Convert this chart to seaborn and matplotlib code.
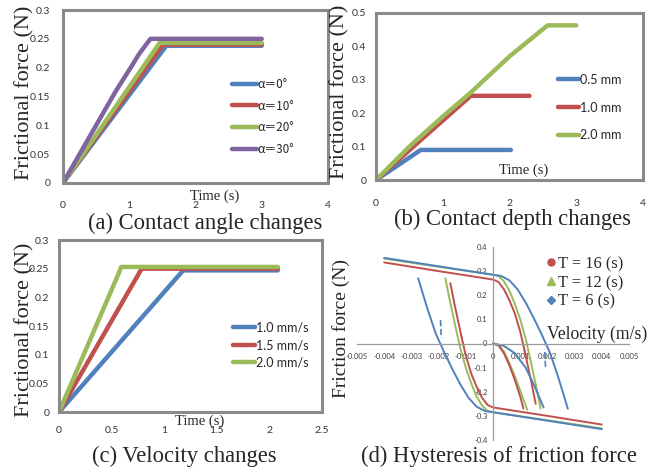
import matplotlib
matplotlib.use('Agg')
import matplotlib.pyplot as plt
import seaborn as sns
from matplotlib.lines import Line2D
from matplotlib.ticker import FuncFormatter, MultipleLocator
from matplotlib.font_manager import FontProperties

sns.set_style('white')
plt.rcParams['font.family'] = ['Lato', 'DejaVu Sans', 'Noto Sans CJK SC']
plt.rcParams['axes.unicode_minus'] = False

BLUE, RED, GREEN, PURPLE = '#4F81BD', '#C0504D', '#9BBB59', '#8064A2'

# ---------------- data ----------------
# (a) contact angle
a_labels = ['α＝0°', 'α＝10°', 'α＝20°', 'α＝30°']
a_t0 = [0, 1.56, 3.0];  a_f0 = [0, 0.238, 0.238]
a_t10 = [0, 1.51, 3.0]; a_f10 = [0, 0.240, 0.240]
a_t20 = [0, 1.46, 3.0]; a_f20 = [0, 0.243, 0.243]
a_t30 = [0, 0.4, 0.8, 1.0, 1.15, 1.32, 3.0]; a_f30 = [0, 0.08, 0.16, 0.196, 0.224, 0.250, 0.250]

# (b) contact depth
b_labels = ['0.5 mm', '1.0 mm', '2.0 mm']
b_t05 = [0, 0.67, 2.02]; b_f05 = [0, 0.090, 0.090]
b_t10 = [0, 0.7, 1.42, 2.3]; b_f10 = [0, 0.125, 0.252, 0.252]
b_t20 = [0, 0.5, 1.0, 1.42, 2.0, 2.57, 3.0]; b_f20 = [0, 0.10, 0.19, 0.262, 0.37, 0.463, 0.463]

# (c) velocity
c_labels = ['1.0 mm/s', '1.5 mm/s', '2.0 mm/s']
c_t10 = [0, 1.18, 2.08]; c_f10 = [0, 0.247, 0.247]
c_t15 = [0, 0.786, 2.08]; c_f15 = [0, 0.250, 0.250]
c_t20 = [0, 0.57, 0.59, 2.08]; c_f20 = [0, 0.243, 0.253, 0.253]

# (d) hysteresis (upper branch; lower branch is its mirror)
d_labels = ['T = 16 (s)', 'T = 12 (s)', 'T = 6 (s)']
d16_v = [-0.004, -0.002, 0, 0.0002, 0.0004, 0.0006, 0.0008, 0.001, 0.0012, 0.0014, 0.00157]
d16_f = [0.336, 0.30, 0.265, 0.255, 0.225, 0.18, 0.125, 0.05, -0.05, -0.155, -0.25]
d12_v = [-0.004, -0.002, 0, 0.0002, 0.0004, 0.0006, 0.0008, 0.001, 0.0012, 0.0014, 0.0016, 0.00175]
d12_f = [0.352, 0.318, 0.285, 0.28, 0.258, 0.22, 0.165, 0.10, 0.02, -0.08, -0.185, -0.27]
d6_v = [-0.004, -0.002, 0, 0.0003, 0.0006, 0.0009, 0.0012, 0.0015, 0.0018, 0.0021, 0.0024, 0.00275]
d6_f = [0.355, 0.32, 0.285, 0.28, 0.262, 0.225, 0.17, 0.105, 0.035, -0.04, -0.14, -0.27]
# initial loading curves
d16_iv = [0, 0.0002, 0.0004, 0.0006, 0.0008, 0.001, 0.00112]
d16_if = [0, -0.008, -0.04, -0.09, -0.15, -0.22, -0.27]
d12_iv = [0, 0.0002, 0.0004, 0.0006, 0.0008, 0.001, 0.00126]
d12_if = [0, -0.006, -0.033, -0.08, -0.135, -0.195, -0.275]
d6_iv = [0, 0.0004, 0.0008, 0.0012, 0.0015, 0.00186]
d6_if = [0, -0.01, -0.04, -0.10, -0.17, -0.265]
# short dashed marks
d16_mv = [-0.00118, -0.00113]; d16_mf = [0.045, 0.005]
d6_mv = [-0.00193, -0.0019]; d6_mf = [0.097, 0.023]

W, H = 662, 474
fig = plt.figure(figsize=(W / 100, H / 100), dpi=100)
fig.patch.set_facecolor('white')


def px_axes(l, t, r, b):
    return fig.add_axes([l / W, 1 - b / H, (r - l) / W, (b - t) / H])


def ftext(x, y, s, **kw):
    fig.text(x / W, 1 - y / H, s, ha='center', va='center', **kw)


SERIF = 'Liberation Serif'
fmt = FuncFormatter(lambda v, p: '%g' % round(v, 6))


def style_box(ax, xmax, xstep, ymax, ystep, xpad, ypad):
    ax.set_xlim(0, xmax)
    ax.set_ylim(0, ymax)
    ax.xaxis.set_major_locator(MultipleLocator(xstep))
    ax.yaxis.set_major_locator(MultipleLocator(ystep))
    ax.xaxis.set_major_formatter(fmt)
    ax.yaxis.set_major_formatter(fmt)
    for s in ax.spines.values():
        s.set_visible(True)
        s.set_color('#8a8a8a')
        s.set_linewidth(2.2)
    ax.tick_params(axis='x', length=0, pad=xpad, labelsize=7.5, colors='#333333')
    ax.tick_params(axis='y', length=0, pad=ypad, labelsize=7.5, colors='#333333')
    ax.grid(False)
    ax.set_xlabel('')
    ax.set_ylabel('')


def line(ax, x, y, color, lw=3.2, label=None, **kw):
    sns.lineplot(x=x, y=y, ax=ax, color=color, lw=lw, sort=False, estimator=None,
                 label=label, solid_capstyle='round', solid_joinstyle='round', **kw)


leg_font = FontProperties(family=['Lato', 'DejaVu Sans', 'Noto Sans CJK SC'], size=9)
leg_font_a = FontProperties(family=['Noto Sans CJK SC', 'DejaVu Sans'], size=8.5)

# ---------------- (a) ----------------
ax = px_axes(63, 10, 328, 183)
for (t, f), c, lab in zip([(a_t0, a_f0), (a_t10, a_f10), (a_t20, a_f20), (a_t30, a_f30)],
                          [BLUE, RED, GREEN, PURPLE], a_labels):
    line(ax, t, f, c, label=lab)
style_box(ax, 4, 1, 0.3, 0.05, 13, 9)
ax.legend(loc='center left', bbox_to_anchor=(232 / W, 1 - 117 / H), bbox_transform=fig.transFigure,
          frameon=False, prop=leg_font_a, handlelength=2.1, handletextpad=0.05,
          labelspacing=0.75, borderpad=0, borderaxespad=0)
ftext(25, 93, 'Frictional force (N)', rotation=90, family=SERIF, fontsize=16)
ftext(215, 196, 'Time (s)', family=SERIF, fontsize=10.5)
ftext(205, 223, '(a) Contact angle changes', family=SERIF, fontsize=16.3)

# ---------------- (b) ----------------
ax = px_axes(376, 13, 643, 180)
for (t, f), c, lab in zip([(b_t05, b_f05), (b_t10, b_f10), (b_t20, b_f20)],
                          [BLUE, RED, GREEN], b_labels):
    line(ax, t, f, c, label=lab)
style_box(ax, 4, 1, 0.5, 0.1, 14, 7)
ax.legend(loc='center left', bbox_to_anchor=(558 / W, 1 - 107.5 / H), bbox_transform=fig.transFigure,
          frameon=False, prop=leg_font, handlelength=1.7, handletextpad=0.05,
          labelspacing=1.27, borderpad=0, borderaxespad=0)
ftext(340, 92, 'Frictional force (N)', rotation=90, family=SERIF, fontsize=16)
ftext(524, 170, 'Time (s)', family=SERIF, fontsize=10.5)
ftext(512, 219, '(b) Contact depth changes', family=SERIF, fontsize=16.3)

# ---------------- (c) ----------------
ax = px_axes(59, 240, 322, 412)
for (t, f), c, lab in zip([(c_t10, c_f10), (c_t15, c_f15), (c_t20, c_f20)],
                          [BLUE, RED, GREEN], c_labels):
    line(ax, t, f, c, label=lab)
style_box(ax, 2.5, 0.5, 0.3, 0.05, 10, 7)
ax.legend(loc='center left', bbox_to_anchor=(233 / W, 1 - 345 / H), bbox_transform=fig.transFigure,
          frameon=False, prop=leg_font, handlelength=1.76, handletextpad=0.05,
          labelspacing=0.46, borderpad=0, borderaxespad=0)
ftext(25, 330, 'Frictional force (N)', rotation=90, family=SERIF, fontsize=16)
ftext(200, 421, 'Time (s)', family=SERIF, fontsize=10.5)
ftext(184, 456, '(c) Velocity changes', family=SERIF, fontsize=16.3)

# ---------------- (d) ----------------
ax = px_axes(357, 247, 629, 440)
neg = lambda seq: [-v for v in seq]
for (v, f, iv, iff), c in zip([(d12_v, d12_f, d12_iv, d12_if),
                                (d16_v, d16_f, d16_iv, d16_if),
                                (d6_v, d6_f, d6_iv, d6_if)], [GREEN, RED, BLUE]):
    line(ax, v, f, c, lw=1.4)
    line(ax, neg(v), neg(f), c, lw=1.4)
    line(ax, iv, iff, c, lw=1.4)
for (mv, mf), c in zip([(d16_mv, d16_mf), (d6_mv, d6_mf)], [RED, BLUE]):
    line(ax, mv, mf, c, lw=1.2, linestyle='--')
    line(ax, neg(mv), neg(mf), c, lw=1.2, linestyle='--')
ax.set_xlim(-0.005, 0.005)
ax.set_ylim(-0.4, 0.4)
ax.xaxis.set_major_locator(MultipleLocator(0.001))
ax.yaxis.set_major_locator(MultipleLocator(0.1))
ax.xaxis.set_major_formatter(fmt)
ax.yaxis.set_major_formatter(fmt)
for k in ['top', 'right']:
    ax.spines[k].set_visible(False)
ax.spines['left'].set_position(('data', 0))
ax.spines['bottom'].set_position(('data', 0))
for k in ['left', 'bottom']:
    ax.spines[k].set_visible(True)
    ax.spines[k].set_color('#9a9a9a')
    ax.spines[k].set_linewidth(0.9)
ax.tick_params(axis='x', length=0, pad=7, labelsize=5.5, colors='#404040')
ax.tick_params(axis='y', length=0, pad=4, labelsize=5.5, colors='#404040')
ax.set_xlabel('')
ax.set_ylabel('')
ax.patch.set_alpha(0)
handles = [Line2D([], [], color=RED, marker='o', ms=5, lw=0),
           Line2D([], [], color=GREEN, marker='^', ms=5.5, lw=0),
           Line2D([], [], color=BLUE, marker='D', ms=4, lw=0)]
ax.legend(handles, d_labels, loc='center left', bbox_to_anchor=(547 / W, 1 - 283 / H),
          bbox_transform=fig.transFigure, frameon=False,
          prop=FontProperties(family=SERIF, size=11.8), handlelength=0.5,
          handletextpad=0.15, labelspacing=0.17, borderpad=0, borderaxespad=0)
ftext(597, 334, 'Velocity (m/s)', family=SERIF, fontsize=12.7)
ftext(341, 328, 'Friction force (N)', rotation=90, family=SERIF, fontsize=14)
ftext(499, 456, '(d) Hysteresis of friction force', family=SERIF, fontsize=16.3)

fig.savefig('out.png', dpi=100, facecolor='white')
